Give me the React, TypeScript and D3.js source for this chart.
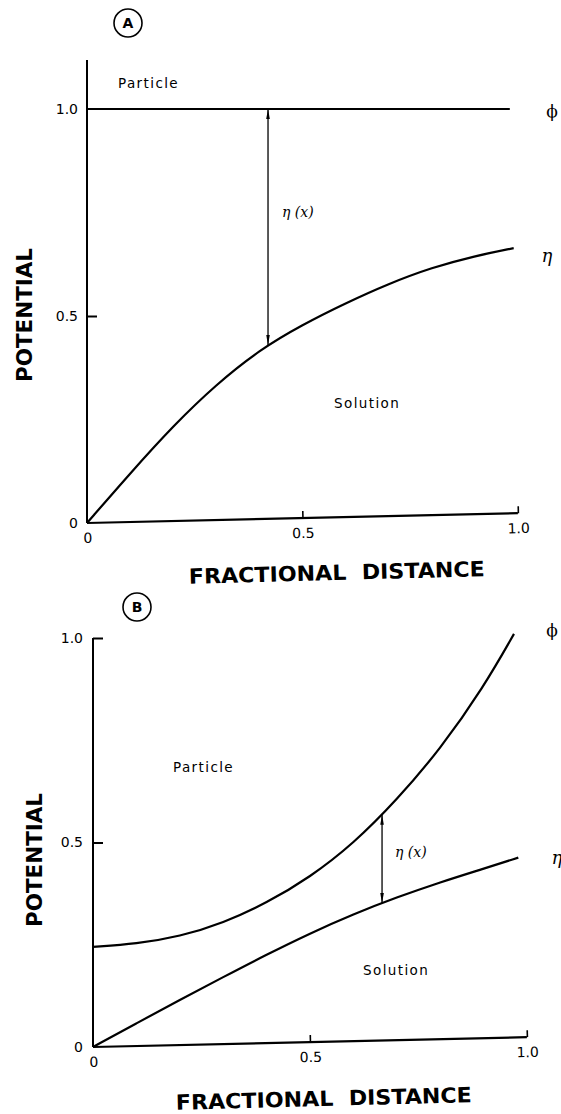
import React, { useRef, useEffect } from "react";
import * as d3 from "d3";

const W = 561;
const H = 1114;

// Panel A: particle potential flat at 1.0, solution potential rising
const xA = [0, 0.1, 0.2, 0.3, 0.4, 0.5, 0.6, 0.7, 0.8, 0.9, 0.99];
const etaA = [0, 0.12, 0.235, 0.335, 0.418, 0.479, 0.531, 0.578, 0.617, 0.645, 0.664];
const xPhiA = [0, 0.981];
const phiA = [1.0, 1.0];

// Panel B: particle potential curving up from 0.25
const xB = [0, 0.1, 0.2, 0.3, 0.4, 0.5, 0.6, 0.7, 0.8, 0.9, 0.98];
const etaB = [0, 0.058, 0.115, 0.171, 0.226, 0.278, 0.325, 0.366, 0.403, 0.436, 0.463];
const xPhiB = [0, 0.1, 0.2, 0.3, 0.4, 0.5, 0.6, 0.7, 0.8, 0.9, 0.97];
const phiB = [0.245, 0.252, 0.27, 0.303, 0.352, 0.415, 0.497, 0.604, 0.728, 0.88, 1.01];

const tickValues = [0, 0.5, 1.0];
const tickLabels = ["0", "0.5", "1.0"];

const FONT = "'DejaVu Sans', sans-serif";
const SERIF = "'DejaVu Serif', serif";

function App() {
  const svgRef = useRef<SVGSVGElement>(null);

  useEffect(() => {
    const svg = d3.select(svgRef.current);
    svg.selectAll("*").remove();

    // arrow heads for the eta(x) gap markers
    const defs = svg.append("defs");
    defs
      .append("marker")
      .attr("id", "head")
      .attr("viewBox", "0 0 10 6")
      .attr("refX", 10)
      .attr("refY", 3)
      .attr("markerWidth", 10)
      .attr("markerHeight", 6)
      .attr("markerUnits", "userSpaceOnUse")
      .attr("orient", "auto-start-reverse")
      .append("path")
      .attr("d", "M0,1.2 L10,3 L0,4.8 Z")
      .attr("fill", "#000");

    const panels = [
      {
        tag: "A",
        circle: [128, 23],
        x0: 87, x1: 518, y0: 523, y1: 109, axisTop: 60,
        yTickMarks: [0.5],
        yPad: 9,
        curves: [
          { xs: xPhiA, ys: phiA },
          { xs: xA, ys: etaA },
        ],
        arrowX: 0.42,
        upper: { xs: xPhiA, ys: phiA },
        lower: { xs: xA, ys: etaA },
        particle: [118, 88],
        solution: [334, 408],
        etaX: [282, 217],
        phiLbl: [552, 117],
        etaLbl: [547, 262],
        potential: [24, 315],
        distance: [337, 580],
      },
      {
        tag: "B",
        circle: [137, 607],
        x0: 93, x1: 527, y0: 1047, y1: 638, axisTop: 638,
        yTickMarks: [0.5, 1.0],
        yPad: 10,
        curves: [
          { xs: xPhiB, ys: phiB },
          { xs: xB, ys: etaB },
        ],
        arrowX: 0.666,
        upper: { xs: xPhiB, ys: phiB },
        lower: { xs: xB, ys: etaB },
        particle: [173, 772],
        solution: [363, 975],
        etaX: [395, 857],
        phiLbl: [552, 636],
        etaLbl: [557, 864],
        potential: [34, 860],
        distance: [324, 1106],
      },
    ];

    panels.forEach((p) => {
      const x = d3.scaleLinear().domain([0, 1]).range([p.x0, p.x1]);
      const y = d3.scaleLinear().domain([0, 1]).range([p.y0, p.y1]);
      const g = svg.append("g");

      // panel tag in a circle
      g.append("circle")
        .attr("cx", p.circle[0])
        .attr("cy", p.circle[1])
        .attr("r", 14)
        .attr("fill", "none")
        .attr("stroke", "#000")
        .attr("stroke-width", 1.6);
      g.append("text")
        .attr("x", p.circle[0])
        .attr("y", p.circle[1])
        .attr("dy", "0.36em")
        .attr("text-anchor", "middle")
        .style("font-family", FONT)
        .style("font-size", "14px")
        .style("font-weight", "bold")
        .text(p.tag);

      // y axis line
      g.append("line")
        .attr("x1", p.x0)
        .attr("x2", p.x0)
        .attr("y1", p.axisTop)
        .attr("y2", p.y0)
        .attr("stroke", "#000")
        .attr("stroke-width", 2);

      // y ticks (inward) and labels
      const yAxis = g
        .append("g")
        .attr("transform", `translate(${p.x0},0)`)
        .call(
          d3
            .axisLeft(y)
            .tickValues(tickValues)
            .tickSizeInner(-10)
            .tickSizeOuter(0)
            .tickPadding(p.yPad)
            .tickFormat((d, i) => tickLabels[i])
        );
      yAxis.select(".domain").remove();
      yAxis
        .selectAll(".tick line")
        .attr("stroke-width", 2)
        .attr("opacity", (d: any) => (p.yTickMarks.includes(d) ? 1 : 0));
      yAxis
        .selectAll(".tick text")
        .style("font-family", FONT)
        .style("font-size", "14px")
        .attr("fill", "#000");

      // x axis, slightly tilted like the scanned original
      const xg = g
        .append("g")
        .attr("transform", `rotate(-1.3, ${p.x0}, ${p.y0})`);
      xg.append("line")
        .attr("x1", p.x0)
        .attr("x2", p.x1)
        .attr("y1", p.y0)
        .attr("y2", p.y0)
        .attr("stroke", "#000")
        .attr("stroke-width", 2.2);
      const xAxis = xg
        .append("g")
        .attr("transform", `translate(0,${p.y0})`)
        .call(
          d3
            .axisBottom(x)
            .tickValues(tickValues)
            .tickSizeInner(-7)
            .tickSizeOuter(0)
            .tickPadding(10)
            .tickFormat((d, i) => tickLabels[i])
        );
      xAxis.select(".domain").remove();
      xAxis
        .selectAll(".tick line")
        .attr("stroke-width", 1.6)
        .attr("opacity", (d: any) => (d === 0 ? 0 : 1));
      xAxis
        .selectAll(".tick text")
        .style("font-family", FONT)
        .style("font-size", "14px")
        .attr("fill", "#000");

      // curves
      const line = d3
        .line<[number, number]>()
        .x((d) => x(d[0]))
        .y((d) => y(d[1]))
        .curve(d3.curveBasis);
      p.curves.forEach((c) => {
        g.append("path")
          .attr("d", line(c.xs.map((v, i) => [v, c.ys[i]] as [number, number])))
          .attr("fill", "none")
          .attr("stroke", "#000")
          .attr("stroke-width", 2.2);
      });

      // eta(x) gap arrow between the two curves
      const upperAt = d3.scaleLinear().domain(p.upper.xs).range(p.upper.ys);
      const lowerAt = d3.scaleLinear().domain(p.lower.xs).range(p.lower.ys);
      g.append("line")
        .attr("x1", x(p.arrowX))
        .attr("x2", x(p.arrowX))
        .attr("y1", y(upperAt(p.arrowX)))
        .attr("y2", y(lowerAt(p.arrowX)))
        .attr("stroke", "#000")
        .attr("stroke-width", 1.3)
        .attr("marker-start", "url(#head)")
        .attr("marker-end", "url(#head)");

      // region labels
      const label = (pos: number[], txt: string) =>
        g
          .append("text")
          .attr("x", pos[0])
          .attr("y", pos[1])
          .style("font-family", FONT)
          .style("font-size", "13.5px")
          .style("letter-spacing", "1.4px")
          .text(txt);
      label(p.particle, "Particle");
      label(p.solution, "Solution");

      g.append("text")
        .attr("x", p.etaX[0])
        .attr("y", p.etaX[1])
        .style("font-family", SERIF)
        .style("font-style", "italic")
        .style("font-size", "14px")
        .style("white-space", "pre")
        .text("η (x)");

      g.append("text")
        .attr("x", p.phiLbl[0])
        .attr("y", p.phiLbl[1])
        .attr("text-anchor", "middle")
        .style("font-family", SERIF)
        .style("font-size", "17px")
        .text("ϕ");
      g.append("text")
        .attr("x", p.etaLbl[0])
        .attr("y", p.etaLbl[1])
        .attr("text-anchor", "middle")
        .style("font-family", SERIF)
        .style("font-style", "italic")
        .style("font-size", "18px")
        .text("η");

      // axis titles
      g.append("text")
        .attr("transform", `translate(${p.potential[0]},${p.potential[1]}) rotate(-90)`)
        .attr("text-anchor", "middle")
        .attr("dy", "0.36em")
        .attr("textLength", 134)
        .attr("lengthAdjust", "spacingAndGlyphs")
        .style("font-family", FONT)
        .style("font-size", "22px")
        .style("font-weight", "bold")
        .text("POTENTIAL");
      g.append("text")
        .attr("transform", `translate(${p.distance[0]},${p.distance[1]}) rotate(-1.5)`)
        .attr("text-anchor", "middle")
        .attr("textLength", 296)
        .attr("lengthAdjust", "spacingAndGlyphs")
        .style("font-family", FONT)
        .style("font-size", "21px")
        .style("font-weight", "bold")
        .style("white-space", "pre")
        .text("FRACTIONAL  DISTANCE");
    });
  }, []);

  return (
    <svg
      ref={svgRef}
      width={W}
      height={H}
      style={{ position: "absolute", left: 0, top: 0, background: "#fff" }}
    ></svg>
  );
}

export default App;
